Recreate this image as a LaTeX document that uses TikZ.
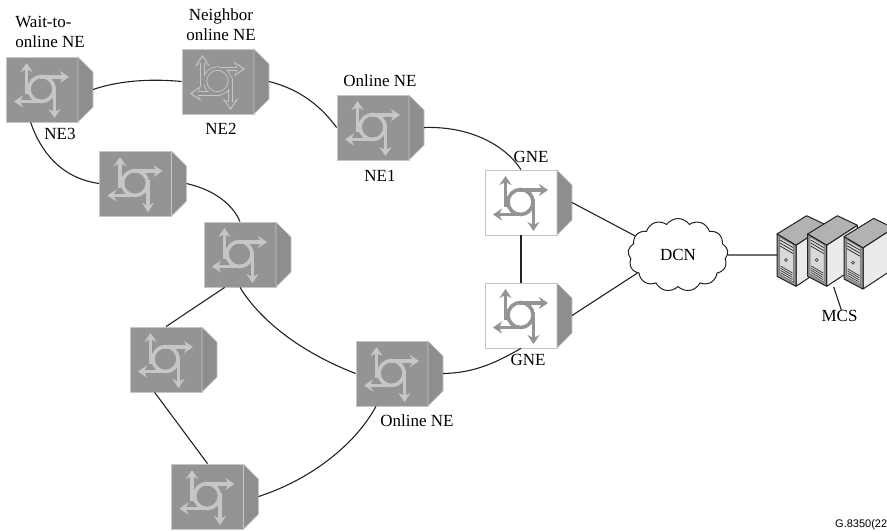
\documentclass[tikz,border=0pt]{standalone}
\usepackage{fontspec}
\setmainfont{Liberation Serif}
\setsansfont{Liberation Sans}
\usepackage{xcolor}
\usetikzlibrary{arrows.meta}
\usetikzlibrary{shapes.symbols}
\definecolor{neGray}{HTML}{949494}
\definecolor{neSide}{HTML}{8E8E8E}
\definecolor{neLight}{HTML}{C6C6C6}
\definecolor{neLine}{HTML}{222222}
\newcommand{\neArrows}[4]{%
  \draw[#1, line width=#2] (35.5,32) circle (12.5);
  \draw[#1, line width=#2, -{Stealth[length=#3,width=#4]}] (20.5,37) -- (20.5,6);
  \draw[#1, line width=#2, -{Stealth[length=#3,width=#4]}] (34,20) -- (63,20);
  \draw[#1, line width=#2, -{Stealth[length=#3,width=#4]}] (38,44.5) -- (8,44.5);
  \draw[#1, line width=#2, -{Stealth[length=#3,width=#4]}] (48.5,29) -- (48.5,61);
}
% side of a box, shared by all the NE pictures
\newcommand{\neWedge}{%
  \draw[draw=neLight, line width=0.7pt, fill=neSide] (72,0) -- (87,15) -- (87,50) -- (72,65) -- cycle;
  \coordinate (-out) at (87,32.5);
}
\tikzset{%
  neBox/.style={rectangle, draw=neLight, fill=neGray, line width=0.8pt, minimum width=72pt, minimum height=65pt, inner sep=0pt},
  gneBox/.style={neBox, fill=white},
  neLabel/.style={inner sep=0pt, align=center, font=\fontsize{17}{20}\selectfont},
  link/.style={draw=neLine, line width=1.1pt},
  pics/ne/.style={code={
    \node[neBox] (-box) at (36,32.5) {};
    \neWedge
    \neArrows{neLight}{3.6pt}{9pt}{12pt}
  }},
  pics/neOpen/.style={code={
    \node[neBox] (-box) at (36,32.5) {};
    \neWedge
    \neArrows{neLight}{4.4pt}{11pt}{15pt}
    \neArrows{neGray, shorten >=2.2pt}{2.6pt}{7pt}{10pt}
  }},
  pics/gne/.style={code={
    \node[gneBox] (-box) at (36,32.5) {};
    \neWedge
    \neArrows{neGray}{3.6pt}{9pt}{12pt}
  }},
  pics/server/.style={code={
    \draw[neLine, line width=1pt, fill=black!30, line join=round] (0,0) -- (29.7,-18.3) -- (49.7,-8.7) -- (19,11.3) -- cycle;
    \draw[neLine, line width=1pt, fill=black!8, line join=round] (19,11.3) -- (49.7,-8.7) -- (49.7,32) -- (19,52.3) -- cycle;
    \draw[neLine, line width=1pt, fill=black!42, line join=round] (0,0) -- (19,11.3) -- (19,52.3) -- (0,42.3) -- cycle;
    \draw[neLine!70, line width=0.5pt, fill=black!15] (2.5,3) -- (16.5,11) -- (16.5,48) -- (2.5,40) -- cycle;
    \foreach \i in {0,3,6}{
      \draw[neLine, line width=0.7pt] (3,6+\i) -- (16,13.5+\i);
    }
    \draw[neLine, line width=0.5pt, fill=black!10] (9,26) circle (1.5);
    \foreach \i in {0,2.2,4.4,6.6}{
      \draw[neLine, line width=0.6pt] (3.5,32+\i) -- (15.5,39+\i);
    }
    \coordinate (-left) at (0,21);
    \coordinate (-foot) at (26,53);
  }}
}
\begin{document}
\begin{tikzpicture}[x=1pt,y=-1pt]
    \useasboundingbox (0,0) rectangle (887,531);
    \clip (0,0) rectangle (887,531);

    \pic (ne3) at (6,57) {ne};
    \pic (ne2) at (182,49) {neOpen};
    \pic (ne1) at (337,95) {ne};
    \pic (nea) at (99.5,151) {ne};
    \pic (neb) at (204,222) {ne};
    \pic (nec) at (130,327) {ne};
    \pic (ned) at (171.5,464) {ne};
    \pic (online) at (356,341) {ne};
    \pic (gnea) at (485,170) {gne};
    \pic (gneb) at (485,283) {gne};

    \node[cloud, cloud puffs=13, cloud puff arc=110, aspect=1.37, draw=neLine, line width=1pt, fill=white, inner sep=0pt, minimum width=100pt, minimum height=73pt, font=\fontsize{17}{20}\selectfont] (dcn) at (678,255) {DCN};

    \pic (mcsa) at (777,234) {server};
    \pic (mcsb) at (807.7,234) {server};
    \pic (mcsc) at (844,236.7) {server};

    \node[neLabel, align=left] (lwait) at (50,32) {Wait-to-\\online NE};
    \node[neLabel] (lneighbor) at (221,25) {Neighbor\\online NE};
    \node[neLabel] (lne3) at (60,134) {NE3};
    \node[neLabel] (lne2) at (221,129) {NE2};
    \node[neLabel] (lonline) at (380,81) {Online NE};
    \node[neLabel] (lne1) at (380,176) {NE1};
    \node[neLabel] (lgnea) at (531,157) {GNE};
    \node[neLabel] (lgneb) at (528,360) {GNE};
    \node[neLabel] (lonlineb) at (417,421) {Online NE};
    \node[neLabel] (mcs) at (839.5,316) {MCS};
    \node[anchor=base west, inner sep=0pt, font=\sffamily\fontsize{11}{13}\selectfont] (ref) at (835,527) {G.8350(22};

    \draw[link] (ne3-out) .. controls (115,82) and (145,78) .. (ne2-box.west);
    \draw[link] (ne2-out) .. controls (295,88) and (318,102) .. (ne1-box.west);
    \draw[link] (ne1-out) .. controls (470,126) and (505,145) .. (gnea-box.north);
    \draw[link] (ne3-box.251) .. controls (40,150) and (60,178) .. (nea-box.west);
    \draw[link] (nea-out) .. controls (215,190) and (233,205) .. (neb-box.north);
    \draw[link] (neb-box.245) -- (nec-box.north);
    \draw[link] (neb-box.south) .. controls (260,320) and (300,352) .. (online-box.west);
    \draw[link] (nec-box.251) -- (ned-box.north);
    \draw[link] (ned-out) .. controls (310,480) and (355,445) .. (online-box.244);
    \draw[link] (online-out) .. controls (475,373) and (497,362) .. (gneb-box.south);
    \draw[link] (gnea-box.south) -- (gneb-box.north);
    \draw[link] (gnea-out) -- (dcn.156);
    \draw[link] (gneb-out) -- (dcn.204);
    \draw[link] (dcn.east) -- (mcsa-left);
    \draw[link] (mcsb-foot) -- (mcs.72);
\end{tikzpicture}
\end{document}
